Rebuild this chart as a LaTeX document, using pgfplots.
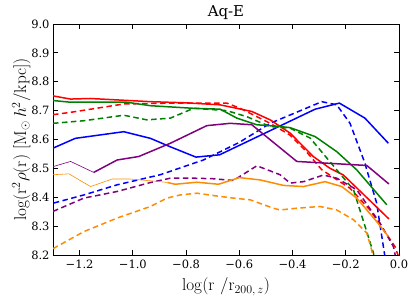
\documentclass[border=0pt]{standalone}
\usepackage[no-math]{fontspec}
\setmainfont{DejaVu Serif}
\usepackage{pgfplots}
\pgfplotsset{compat=1.18}
\definecolor{mred}{rgb}{1,0,0}
\definecolor{mgreen}{rgb}{0,0.5,0}
\definecolor{mblue}{rgb}{0,0,1}
\definecolor{mpurple}{rgb}{0.5,0,0.5}
\definecolor{morange}{rgb}{1,0.55,0}
\begin{document}
\begin{tikzpicture}
\begin{axis}[
  name=ax,
  scale only axis,
  width=346bp, height=231bp,
  xmin=-1.3, xmax=0, ymin=8.2, ymax=9.0,
  xtick={-1.2,-1.0,-0.8,-0.6,-0.4,-0.2,0.0},
  xticklabels={−1.2,−1.0,−0.8,−0.6,−0.4,−0.2,0.0},
  ytick={8.2,8.3,8.4,8.5,8.6,8.7,8.8,8.9,9.0},
  yticklabels={8.2,8.3,8.4,8.5,8.6,8.7,8.8,8.9,9.0},
  tick align=inside,
  major tick length=5bp,
  minor tick num=0,
  axis line style={line width=0.9bp},
  every tick/.style={line width=0.9bp, black},
  tick label style={font=\fontsize{11.5}{12}\selectfont},
  xticklabel style={yshift=-1bp},
  title={Aq-E},
  title style={font=\fontsize{15}{16}\selectfont, yshift=-5bp},
  xlabel={$\log(\mathrm{r}\ /\mathrm{r}_{200,\,z})$},
  ylabel={$\log(\mathrm{r}^2\rho(\mathrm{r})\ [\mathrm{M}_\odot\,h^2/\mathrm{kpc}])$},
  label style={font=\fontsize{17.5}{17.5}\selectfont},
  xlabel style={yshift=-3bp},
  ylabel style={yshift=-6bp},
  every axis plot/.append style={line width=1.5bp, line join=round},
  clip=true,
]
% blue solid
\addplot[mblue] coordinates {(-1.3,8.570) (-1.216,8.604) (-1.034,8.627) (-0.934,8.604) (-0.86,8.575) (-0.763,8.539) (-0.674,8.547) (-0.315,8.705) (-0.224,8.726) (-0.128,8.674) (-0.04,8.587)};
% blue dashed
\addplot[mblue, dash pattern=on 5.5bp off 3.5bp] coordinates {(-1.297,8.380) (-1.184,8.408) (-1.059,8.443) (-0.897,8.478) (-0.735,8.529) (-0.6,8.59) (-0.484,8.656) (-0.29,8.731) (-0.234,8.72) (-0.184,8.656) (-0.128,8.518) (-0.121,8.495) (-0.084,8.380) (-0.053,8.195) (-0.045,8.12)};
% red solid
\addplot[mred] coordinates {(-1.3,8.751) (-1.234,8.740) (-1.16,8.742) (-0.934,8.731) (-0.8,8.727) (-0.672,8.72) (-0.553,8.697) (-0.484,8.668) (-0.409,8.622) (-0.322,8.541) (-0.259,8.50) (-0.209,8.477) (-0.038,8.325)};
% red dashed
\addplot[mred, dash pattern=on 5.5bp off 3.5bp] coordinates {(-1.3,8.686) (-1.234,8.694) (-1.034,8.723) (-0.859,8.726) (-0.647,8.726) (-0.597,8.708) (-0.484,8.656) (-0.409,8.615) (-0.35,8.56) (-0.29,8.495) (-0.184,8.431) (-0.109,8.356) (-0.015,8.229) (0,8.19)};
% green solid
\addplot[mgreen] coordinates {(-1.3,8.735) (-1.234,8.729) (-1.022,8.729) (-0.934,8.717) (-0.772,8.708) (-0.672,8.705) (-0.609,8.674) (-0.534,8.651) (-0.447,8.645) (-0.409,8.641) (-0.315,8.610) (-0.234,8.558) (-0.159,8.495) (-0.046,8.374)};
% green dashed
\addplot[mgreen, dash pattern=on 5.5bp off 3.5bp] coordinates {(-1.3,8.656) (-1.184,8.665) (-1.034,8.684) (-0.947,8.668) (-0.859,8.674) (-0.772,8.708) (-0.647,8.70) (-0.572,8.679) (-0.484,8.645) (-0.409,8.639) (-0.334,8.605) (-0.265,8.529) (-0.171,8.426) (-0.096,8.207) (-0.09,8.15)};
% purple solid thin
\addplot[mpurple, line width=0.6bp] coordinates {(-1.3,8.506) (-1.234,8.524) (-1.147,8.486)};
% purple solid thick
\addplot[mpurple] coordinates {(-1.147,8.486) (-1.059,8.529) (-0.978,8.541) (-0.859,8.587) (-0.722,8.648) (-0.634,8.656) (-0.553,8.651) (-0.384,8.524) (-0.121,8.510) (-0.038,8.446)};
% purple dashed
\addplot[mpurple, dash pattern=on 5.5bp off 3.5bp] coordinates {(-1.3,8.351) (-1.184,8.397) (-1.059,8.420) (-0.934,8.451) (-0.859,8.466) (-0.772,8.466) (-0.697,8.464) (-0.622,8.458) (-0.534,8.509) (-0.447,8.478) (-0.409,8.449) (-0.359,8.454) (-0.284,8.477) (-0.234,8.466) (-0.159,8.426) (-0.071,8.310) (-0.021,8.229) (-0.01,8.18)};
% orange solid thin
\addplot[morange, line width=0.6bp] coordinates {(-1.3,8.478) (-1.24,8.481) (-1.159,8.437) (-1.078,8.463) (-1.009,8.463) (-0.897,8.454) (-0.87,8.451)};
% orange solid thick
\addplot[morange] coordinates {(-0.87,8.451) (-0.841,8.445) (-0.759,8.452) (-0.678,8.445) (-0.600,8.468) (-0.522,8.46) (-0.434,8.441) (-0.359,8.437) (-0.278,8.454) (-0.215,8.437) (-0.159,8.397) (-0.084,8.316) (-0.04,8.264)};
% orange dashed
\addplot[morange, dash pattern=on 5.5bp off 3.5bp] coordinates {(-1.3,8.222) (-1.184,8.281) (-1.059,8.328) (-0.934,8.368) (-0.872,8.397) (-0.822,8.408) (-0.759,8.414) (-0.69,8.405) (-0.622,8.397) (-0.559,8.391) (-0.472,8.362) (-0.447,8.356) (-0.384,8.362) (-0.297,8.368) (-0.234,8.356) (-0.171,8.322) (-0.121,8.276) (-0.103,8.218) (-0.09,8.15)};
\coordinate (sw) at (rel axis cs:0,0);
\coordinate (ne) at (rel axis cs:1,1);
\end{axis}
\pgfresetboundingbox
\path ([shift={(-53bp,-46bp)}]sw) rectangle ([shift={(16bp,24bp)}]ne);
\end{tikzpicture}
\end{document}
